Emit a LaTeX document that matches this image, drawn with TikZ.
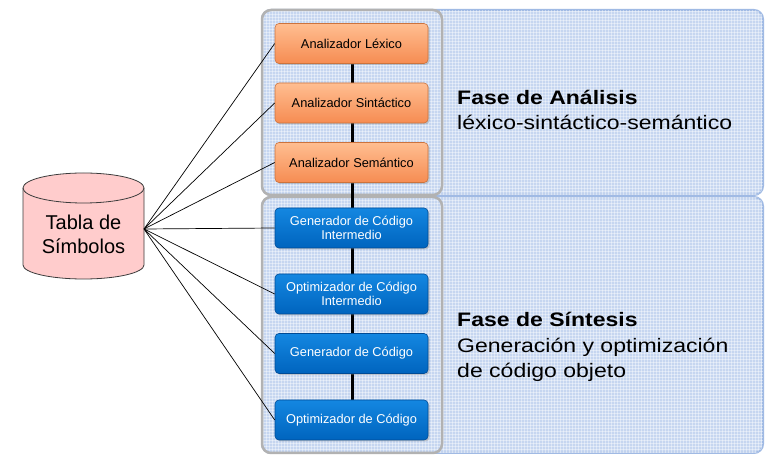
\documentclass[tikz,border=0pt]{standalone}
\usepackage{fontspec}
\setmainfont{Liberation Sans}
\usetikzlibrary{shadows}
\definecolor{panelfill}{RGB}{198,214,240}
\definecolor{paneledge}{RGB}{160,186,228}
\definecolor{grayedge}{RGB}{178,178,178}
\definecolor{orangetop}{RGB}{255,190,145}
\definecolor{orangebot}{RGB}{246,140,82}
\definecolor{orangeedge}{RGB}{205,115,60}
\definecolor{bluetop}{RGB}{20,135,225}
\definecolor{bluebot}{RGB}{0,100,190}
\definecolor{blueedge}{RGB}{0,75,150}
\definecolor{cylfill}{RGB}{255,204,204}
\definecolor{cyledge}{RGB}{60,60,60}
\tikzset{
  panel/.style={fill=panelfill, draw=paneledge, line width=2pt, rounded corners=9pt},
  grouprect/.style={draw=grayedge, line width=2.5pt, rounded corners=9pt},
  stepbox/.style={rounded corners=4pt, minimum width=153pt, minimum height=40pt, inner sep=1pt,
     align=center, font=\fontsize{12.8}{14}\selectfont, line width=0.6pt,
     drop shadow={shadow xshift=1.5pt, shadow yshift=-1.5pt, opacity=0.35}},
  anbox/.style={stepbox, top color=orangetop, bottom color=orangebot, draw=orangeedge, text=black},
  sybox/.style={stepbox, top color=bluetop, bottom color=bluebot, draw=blueedge, text=white},
  link/.style={draw=black, line width=0.7pt},
  phase/.style={anchor=west, align=left, inner sep=0pt, xscale=1.18, transform shape,
     font=\fontsize{19.5}{25.5}\selectfont}
}
\begin{document}
\begin{tikzpicture}[x=1pt,y=1pt]
\useasboundingbox (0,0) rectangle (767,457);
\fill[white] (0,0) rectangle (767,457);
% panels
\draw[panel] (262,447) rectangle (763,262);
\draw[panel] (262,260) rectangle (763,4);
\begin{scope}
  \clip[rounded corners=9pt] (262,447) rectangle (763,262);
  \foreach \x in {263,266,...,763} \draw[white, opacity=0.4, line width=0.6pt] (\x,262) -- (\x,447);
  \foreach \y in {263,266,...,447} \draw[white, opacity=0.4, line width=0.6pt] (262,\y) -- (763,\y);
\end{scope}
\begin{scope}
  \clip[rounded corners=9pt] (262,260) rectangle (763,4);
  \foreach \x in {263,266,...,763} \draw[white, opacity=0.4, line width=0.6pt] (\x,4) -- (\x,260);
  \foreach \y in {5,8,...,260} \draw[white, opacity=0.4, line width=0.6pt] (262,\y) -- (763,\y);
\end{scope}
\draw[grouprect] (262,447) rectangle (442,262);
\draw[grouprect] (262,260) rectangle (442,4);
% spine
\coordinate (spinetop) at (352,413.5);
\coordinate (spinebot) at (352,37);
\draw[line width=3pt] (spinetop) -- (spinebot);
% boxes
\node[anbox] (lex) at (351.5,413.5) {Analizador Léxico};
\node[anbox] (sin) at (351.5,354) {Analizador Sintáctico};
\node[anbox] (sem) at (351.5,294.5) {Analizador Semántico};
\node[sybox] (gci) at (351.5,229) {Generador de Código\\Intermedio};
\node[sybox] (oci) at (351.5,163) {Optimizador de Código\\Intermedio};
\node[sybox] (gc) at (351.5,103.5) {Generador de Código};
\node[sybox] (oc) at (351.5,37) {Optimizador de Código};
% cylinder
\fill[cylfill] (23,269) -- (23,192) arc[start angle=180, end angle=360, x radius=60.5, y radius=14]
   -- (144,269) arc[start angle=0, end angle=180, x radius=60.5, y radius=15] -- cycle;
\draw[cyledge, line width=0.8pt] (23,269) -- (23,192) arc[start angle=180, end angle=360, x radius=60.5, y radius=14]
   -- (144,269);
\draw[cyledge, line width=0.8pt] (83.5,269) ellipse[x radius=60.5, y radius=15];
\node[align=center, inner sep=0pt, font=\fontsize{20}{24}\selectfont] (tabla) at (83.5,223) {Tabla de\\Símbolos};
\coordinate (hub) at (144,228);
\foreach \b in {lex,sin,sem,gci,oci,gc,oc} \draw[link] (hub) -- (\b.west);
% phase texts
\node[phase] (fa) at (457,347) {\textbf{Fase de Análisis}\\léxico-sintáctico-semántico};
\node[phase] (fs) at (457,110) {\textbf{Fase de Síntesis}\\Generación y optimización\\de código objeto};
\end{tikzpicture}
\end{document}
